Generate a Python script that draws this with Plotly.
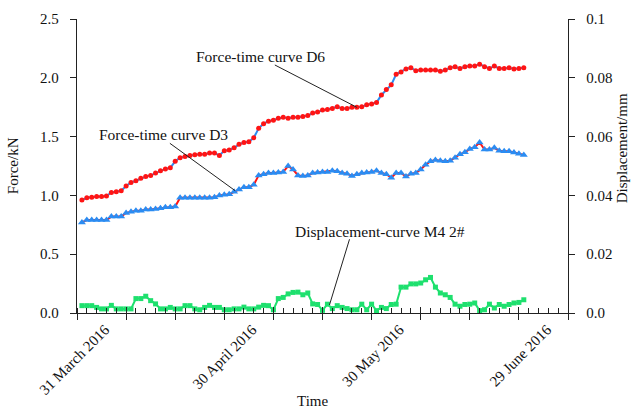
import pandas as pd
import plotly.graph_objects as go

# Daily readings, 1 April 2016 onwards
force_d6 = [0.96, 0.98, 0.985, 0.99, 0.99, 0.995, 1.025, 1.03, 1.04, 1.08,
            1.11, 1.125, 1.145, 1.16, 1.17, 1.19, 1.21, 1.225, 1.235, 1.29,
            1.32, 1.33, 1.34, 1.345, 1.35, 1.35, 1.36, 1.36, 1.34, 1.38,
            1.386, 1.405, 1.434, 1.45, 1.456, 1.49, 1.57, 1.61, 1.63, 1.64,
            1.656, 1.664, 1.656, 1.664, 1.664, 1.67, 1.68, 1.70, 1.71, 1.726,
            1.73, 1.74, 1.754, 1.74, 1.74, 1.75, 1.75, 1.754, 1.77, 1.777,
            1.79, 1.854, 1.90, 1.94, 2.03, 2.05, 2.075, 2.086, 2.06, 2.066,
            2.066, 2.066, 2.066, 2.055, 2.066, 2.086, 2.094, 2.08, 2.094, 2.10,
            2.10, 2.115, 2.094, 2.08, 2.10, 2.08, 2.08, 2.086, 2.075, 2.08,
            2.086]

force_d3 = [0.77, 0.79, 0.79, 0.79, 0.79, 0.79, 0.82, 0.82, 0.82, 0.85,
            0.86, 0.87, 0.87, 0.88, 0.88, 0.885, 0.89, 0.90, 0.90, 0.905,
            0.98, 0.98, 0.98, 0.98, 0.98, 0.98, 0.98, 0.985, 1.0, 1.005,
            1.01, 1.03, 1.05, 1.07, 1.07, 1.09, 1.17, 1.18, 1.19, 1.19,
            1.195, 1.20, 1.25, 1.22, 1.17, 1.165, 1.17, 1.19, 1.195, 1.20,
            1.20, 1.21, 1.205, 1.19, 1.185, 1.165, 1.18, 1.19, 1.195, 1.20,
            1.21, 1.19, 1.18, 1.15, 1.19, 1.19, 1.16, 1.185, 1.19, 1.22,
            1.26, 1.29, 1.30, 1.295, 1.29, 1.295, 1.32, 1.35, 1.366, 1.395,
            1.41, 1.45, 1.39, 1.39, 1.405, 1.38, 1.375, 1.375, 1.365, 1.355,
            1.343]

disp_m4 = [0.0025, 0.0025, 0.0025, 0.0019, 0.0014, 0.0014, 0.0026, 0.0014, 0.0014, 0.0014,
           0.0014, 0.0049, 0.0049, 0.0057, 0.0042, 0.0031, 0.0014, 0.0014, 0.0019, 0.0014,
           0.0014, 0.0025, 0.0025, 0.0014, 0.0011, 0.0019, 0.0026, 0.0019, 0.0019, 0.0011,
           0.0011, 0.0014, 0.0014, 0.0020, 0.0014, 0.0014, 0.0020, 0.0026, 0.0025, 0.0011,
           0.0049, 0.0053, 0.0065, 0.0070, 0.0071, 0.0062, 0.0068, 0.0031, 0.0029, 0.0009,
           0.0030, 0.0015, 0.0025, 0.0019, 0.0015, 0.0011, 0.0011, 0.0030, 0.0011, 0.0030,
           0.0008, 0.0019, 0.0015, 0.0029, 0.0030, 0.0088, 0.0088, 0.0099, 0.0099, 0.0102,
           0.0113, 0.0121, 0.0088, 0.0068, 0.0062, 0.0053, 0.0030, 0.0023, 0.0029, 0.0030,
           0.0034, 0.0008, 0.0011, 0.0030, 0.0017, 0.0029, 0.0023, 0.0029, 0.0034, 0.0036,
           0.0045]

dates = pd.date_range("2016-04-01", periods=len(force_d6), freq="D")

major_ticks = pd.date_range("2016-03-31", periods=11, freq="10D")
major_labels = ["31 March 2016", "", "", "30 April 2016", "", "",
                "30 May 2016", "", "", "29 June 2016", ""]
y_left_ticks = [0, 0.5, 1.0, 1.5, 2.0, 2.5]
y_left_labels = ["0.0", "0.5", "1.0", "1.5", "2.0", "2.5"]
y_right_ticks = [0, 0.02, 0.04, 0.06, 0.08, 0.1]
y_right_labels = ["0.0", "0.02", "0.04", "0.06", "0.08", "0.1"]

FONT = "Liberation Serif"
BLUE = "#2b8cf2"
RED = "#ff1414"
GREEN = "#1ee06e"
x_range = ["2016-03-31", "2016-07-09"]

fig = go.Figure()
fig.add_trace(go.Scatter(x=dates, y=force_d6, mode="lines+markers",
                         line=dict(color=BLUE, width=2),
                         marker=dict(symbol="circle", size=5, color=RED),
                         name="D6"))
fig.add_trace(go.Scatter(x=dates, y=force_d3, mode="lines+markers",
                         line=dict(color=RED, width=2),
                         marker=dict(symbol="triangle-up", size=7, color=BLUE),
                         name="D3"))
fig.add_trace(go.Scatter(x=dates, y=disp_m4, mode="lines+markers", yaxis="y2",
                         line=dict(color=GREEN, width=2),
                         marker=dict(symbol="square", size=5, color=GREEN),
                         name="M4 2#"))
# invisible helper trace carrying the inner half of the major x ticks
fig.add_trace(go.Scatter(x=[dates[0]], y=[0], xaxis="x2", mode="markers",
                         marker=dict(opacity=0), hoverinfo="skip", showlegend=False))

axis_font = dict(family=FONT, size=15, color="#111")

fig.update_layout(
    width=638, height=413,
    margin=dict(l=77, r=70, t=19, b=100),
    paper_bgcolor="white", plot_bgcolor="white",
    showlegend=False,
    font=dict(family=FONT, size=15, color="#111"),
    xaxis=dict(type="date", range=x_range, showgrid=False, zeroline=False,
               showline=True, linecolor="#222", linewidth=1.3,
               tickmode="array", tickvals=major_ticks, ticktext=major_labels,
               ticks="outside", ticklen=6, tickwidth=1.2, tickcolor="#222",
               tickangle=-45, tickfont=axis_font, ticklabelshift=28,
               ticklabelstandoff=-5,
               minor=dict(ticks="inside", ticklen=5, tickwidth=1, tickcolor="#222",
                          tickmode="linear", tick0="2016-03-31",
                          dtick=2 * 86400000, showgrid=False)),
    xaxis2=dict(type="date", range=x_range, overlaying="x", anchor="y",
                showgrid=False, zeroline=False, showline=False,
                tickmode="array", tickvals=major_ticks, ticktext=[""] * 11,
                ticks="inside", ticklen=6, tickwidth=1.2, tickcolor="#222",
                showticklabels=False),
    yaxis=dict(range=[0, 2.5], showgrid=False, zeroline=False,
               showline=True, linecolor="#222", linewidth=1.3,
               tickmode="array", tickvals=y_left_ticks, ticktext=y_left_labels,
               ticks="outside", ticklen=6, tickwidth=1.2, tickcolor="#222",
               tickfont=axis_font, ticklabelstandoff=8),
    yaxis2=dict(range=[0, 0.1], overlaying="y", side="right", anchor="x",
                showgrid=False, zeroline=False,
                showline=True, linecolor="#222", linewidth=1.3,
                tickmode="array", tickvals=y_right_ticks, ticktext=y_right_labels,
                ticks="outside", ticklen=6, tickwidth=1.2, tickcolor="#222",
                tickfont=axis_font, ticklabelstandoff=8),
)

# curve labels with leader lines
labels = [
    ("Force-time curve D6", "2016-05-07 08:00", 2.177),
    ("Force-time curve D3", "2016-04-17 16:00", 1.522),
    ("Displacement-curve M4 2#", "2016-05-31 18:00", 0.689),
]
for text, lx, ly in labels:
    fig.add_annotation(x=lx, y=ly, xref="x", yref="y", text=text, showarrow=False,
                       font=dict(family=FONT, size=15.5, color="#111"))

leaders = [
    ("2016-05-10 07:00", 2.109, "2016-05-27", 1.749),
    ("2016-04-18 22:00", 1.443, "2016-05-02 05:00", 1.04),
    ("2016-05-25 12:00", 0.627, "2016-05-21 10:00", 0.068),
]
for x0, y0, x1, y1 in leaders:
    fig.add_shape(type="line", xref="x", yref="y", x0=x0, y0=y0, x1=x1, y1=y1,
                  line=dict(color="#222", width=1))

# axis titles
fig.add_annotation(text="Force/kN", xref="paper", yref="paper", x=-0.13, y=0.5,
                   textangle=-90, showarrow=False, xanchor="center", yanchor="middle",
                   font=dict(family=FONT, size=15, color="#111"))
fig.add_annotation(text="Displacement/mm", xref="paper", yref="paper", x=1.11, y=0.56,
                   textangle=-90, showarrow=False, xanchor="center", yanchor="middle",
                   font=dict(family=FONT, size=15, color="#111"))
fig.add_annotation(text="Time", xref="paper", yref="paper", x=0.48, y=-0.30,
                   showarrow=False, xanchor="center", yanchor="middle",
                   font=dict(family=FONT, size=15, color="#111"))

fig.write_html("out.html")
